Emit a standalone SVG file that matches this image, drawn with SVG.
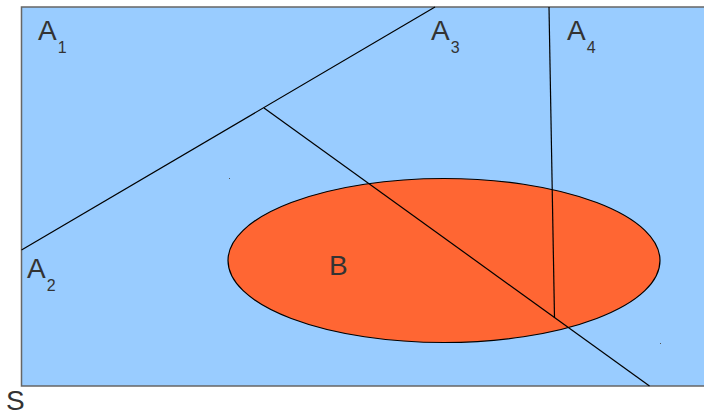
<svg xmlns="http://www.w3.org/2000/svg" width="704" height="413" viewBox="0 0 704 413">
<style>
.t{font-family:"Liberation Sans",Arial,sans-serif;fill:#333;font-size:28px}
.s{font-size:16px}
.ln{stroke:#000;stroke-width:1.2;fill:none}
</style>
<rect width="704" height="413" fill="#fff"/>
<g id="S">
<rect x="21.5" y="7" width="690" height="379" fill="#99ccff" stroke="#666" stroke-width="1.5"/>
<text class="t" x="6" y="410">S</text>
</g>
<g id="B">
<ellipse cx="444" cy="260.5" rx="216" ry="82" fill="#ff6633" stroke="#000" stroke-width="1.2"/>
<text class="t" x="329" y="275">B</text>
</g>
<g id="connectors">
<line class="ln" x1="21.5" y1="250" x2="435" y2="7"/>
<line class="ln" x1="264" y1="108" x2="649.5" y2="386"/>
<line class="ln" x1="549" y1="7" x2="554.5" y2="318"/>
</g>
<g id="A1"><text class="t" x="38" y="40">A<tspan class="s" dx="1" dy="13">1</tspan></text></g>
<g id="A2"><text class="t" x="27" y="278">A<tspan class="s" dx="1" dy="13">2</tspan></text></g>
<g id="A3"><text class="t" x="431" y="40">A<tspan class="s" dx="1" dy="13">3</tspan></text></g>
<g id="A4"><text class="t" x="567" y="40">A<tspan class="s" dx="1" dy="13">4</tspan></text></g>
<rect x="229" y="178" width="1" height="1" fill="#555"/>
<rect x="660" y="343" width="1" height="1" fill="#555"/>
</svg>
